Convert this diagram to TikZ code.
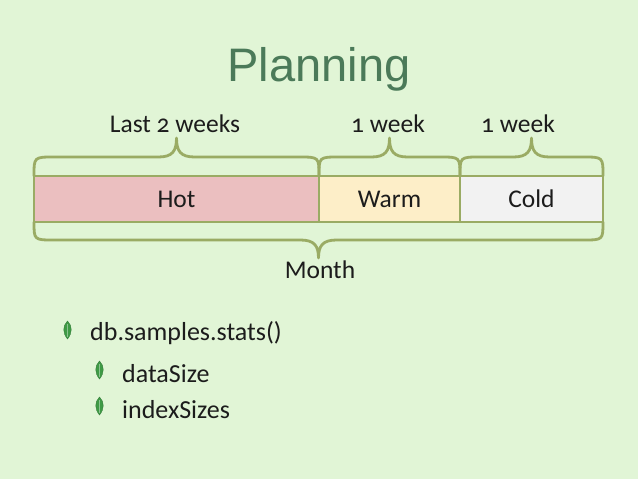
\documentclass[tikz,border=0pt]{standalone}
\usepackage{fontspec}
\setmainfont[Numbers=OldStyle]{Carlito}
\newfontfamily\titlefont{Liberation Sans}
\definecolor{bg}{HTML}{E1F5D6}
\definecolor{olive}{HTML}{9AAB64}
\definecolor{hotc}{HTML}{EBBFC0}
\definecolor{warmc}{HTML}{FDEEC8}
\definecolor{coldc}{HTML}{F2F2F2}
\definecolor{titlec}{HTML}{4B7A59}
\definecolor{leafc}{HTML}{3E9A45}
\definecolor{txt}{HTML}{1C1C1C}
\tikzset{
  seg/.style={draw=olive, line width=2.6pt, minimum height=46pt, inner sep=0pt, outer sep=0pt, font=\fontsize{25.5}{28}\selectfont, text=txt},
  bracepath/.style={draw=olive, line width=2.8pt, line cap=round, line join=round},
  lbl/.style={font=\fontsize{25.5}{28}\selectfont, text=txt, inner sep=0pt},
  item/.style={font=\fontsize{26}{29}\selectfont, text=txt, anchor=base west, inner sep=0pt},
  leaf/.style={fill=leafc, draw=leafc!80!black, line width=0.4pt}
}
\newcommand\bracetop[2]{%
  \pgfmathsetmacro\bm{(#1+#2)/2}%
  \draw[bracepath] (#1,176) .. controls (#1,157) .. (#1+20,157) -- (\bm-18,157)
    .. controls (\bm-4,157) and (\bm,151) .. (\bm,138)
    .. controls (\bm,151) and (\bm+4,157) .. (\bm+18,157) -- (#2-20,157)
    .. controls (#2,157) .. (#2,176);}
\newcommand\bracebot[2]{%
  \pgfmathsetmacro\bm{(#1+#2)/2}%
  \draw[bracepath] (#1,222) .. controls (#1,240) .. (#1+20,240) -- (\bm-18,240)
    .. controls (\bm-4,240) and (\bm,246) .. (\bm,258)
    .. controls (\bm,246) and (\bm+4,240) .. (\bm+18,240) -- (#2-20,240)
    .. controls (#2,240) .. (#2,222);}
\newcommand\leafat[2]{%
  \path[leaf] (#1,#2) .. controls (#1+5,#2+5) and (#1+5,#2+12) .. (#1,#2+18)
    .. controls (#1-5,#2+12) and (#1-5,#2+5) .. cycle;
  \draw[leafc!60!white, line width=0.5pt] (#1,#2+3) -- (#1,#2+16);}
\begin{document}
\begin{tikzpicture}[x=1pt,y=-1pt]
  \fill[bg] (0,0) rectangle (638,479);
  \useasboundingbox (0,0) rectangle (638,479);
  \node[font=\titlefont\fontsize{47}{50}\selectfont, text=titlec, anchor=base, inner sep=0pt] (title) at (319,81) {Planning};
  \node[seg, fill=hotc, minimum width=285pt] (hot) at (176.5,199) {Hot};
  \node[seg, fill=warmc, minimum width=141pt] (warm) at (389.5,199) {Warm};
  \node[seg, fill=coldc, minimum width=143pt] (cold) at (531.5,199) {Cold};
  \bracetop{34}{319}
  \bracetop{319}{460}
  \bracetop{460}{603}
  \bracebot{34}{603}
  \node[lbl] (l2w) at (175,124) {Last 2 weeks};
  \node[lbl] (w1) at (388,124) {1 week};
  \node[lbl] (w2) at (518,124) {1 week};
  \node[lbl] (month) at (320,270) {Month};
  \leafat{67.5}{321}
  \node[item] (stats) at (90,340) {db.samples.stats()};
  \leafat{99.5}{361}
  \node[item] (data) at (122,382) {dataSize};
  \leafat{99.5}{397}
  \node[item] (idx) at (122,418) {indexSizes};
\end{tikzpicture}
\end{document}
